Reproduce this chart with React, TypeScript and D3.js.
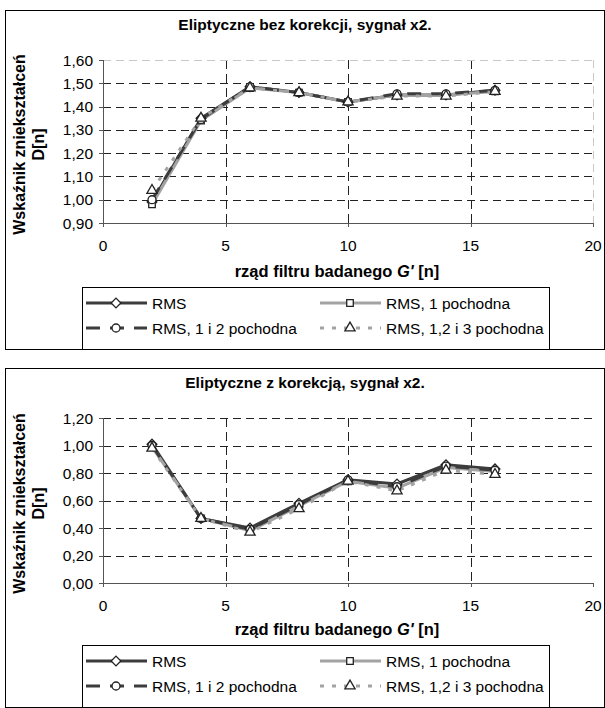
import * as d3 from 'd3'

// rząd filtru (oś X)
const orders = [2, 4, 6, 8, 10, 12, 14, 16]
const seriesNames = ['RMS', 'RMS, 1 pochodna', 'RMS, 1 i 2 pochodna', 'RMS, 1,2 i 3 pochodna']

// Eliptyczne bez korekcji
const topRms = [0.99, 1.35, 1.485, 1.46, 1.42, 1.45, 1.45, 1.47]
const topD1 = [0.98, 1.34, 1.48, 1.46, 1.42, 1.45, 1.45, 1.465]
const topD12 = [1.0, 1.345, 1.485, 1.46, 1.42, 1.455, 1.455, 1.47]
const topD123 = [1.04, 1.35, 1.48, 1.46, 1.42, 1.445, 1.445, 1.465]

// Eliptyczne z korekcją
const botRms = [1.01, 0.47, 0.4, 0.58, 0.75, 0.72, 0.86, 0.83]
const botD1 = [0.99, 0.47, 0.38, 0.56, 0.74, 0.69, 0.84, 0.81]
const botD12 = [1.0, 0.47, 0.39, 0.57, 0.75, 0.7, 0.85, 0.82]
const botD123 = [0.98, 0.47, 0.37, 0.54, 0.74, 0.67, 0.82, 0.79]

const xTicks = [0, 5, 10, 15, 20]
const topTicks = [0.9, 1.0, 1.1, 1.2, 1.3, 1.4, 1.5, 1.6]
const botTicks = [0, 0.2, 0.4, 0.6, 0.8, 1.0, 1.2]

const FONT = 'Liberation Sans, Arial, sans-serif'
const DARK = '#3c3c3c'
const LIGHT = '#a3a3a3'

const looks = [
  { color: DARK, dash: undefined, marker: 'diamond' },
  { color: LIGHT, dash: undefined, marker: 'square' },
  { color: DARK, dash: '14,10', marker: 'circle' },
  { color: LIGHT, dash: '4,8', marker: 'triangle' },
]

const symbolOf = (m: string) => {
  if (m === 'diamond') return d3.symbol(d3.symbolDiamond2, 60)()
  if (m === 'square') return d3.symbol(d3.symbolSquare2, 55)()
  if (m === 'circle') return d3.symbol(d3.symbolCircle, 50)()
  return d3.symbol(d3.symbolTriangle2, 75)()
}

const fmt = (v: number) => d3.format('.2f')(v).replace('.', ',')

type ChartProps = {
  top: number
  title: string
  ticks: number[]
  values: number[][]
  plotH: number
  frame: boolean
}

const Chart = ({ top, title, ticks, values, plotH, frame }: ChartProps) => {
  const left = 103
  const right = 593
  const pTop = top + 60
  const pBottom = pTop + plotH

  const x = d3.scaleLinear().domain([0, 20]).range([left, right])
  const y = d3.scaleLinear().domain([ticks[0], ticks[ticks.length - 1]]).range([pBottom, pTop])

  const line = (vals: number[]) =>
    d3.line<number>().x((_, i) => x(orders[i])).y((d) => y(d))(vals) || ''

  const legendTop = top + 287
  const rows = [legendTop + 16, legendTop + 41]
  const cols = [86, 320]

  return (
    <g>
      <rect x={5.5} y={top + 10.5} width={599} height={339} fill="#fff" stroke="#000" strokeWidth={1} />
      <text x={305} y={top + 30} textAnchor="middle" fontFamily={FONT} fontWeight="bold" fontSize={15.5}>
        {title}
      </text>

      {/* siatka */}
      {ticks.slice(1, frame ? -1 : undefined).map((t) => (
        <line key={'h' + t} x1={left} x2={right} y1={Math.round(y(t)) + 0.5} y2={Math.round(y(t)) + 0.5}
          stroke="#222" strokeDasharray="8,5" />
      ))}
      {xTicks.slice(1, -1).map((t) => (
        <line key={'v' + t} x1={Math.round(x(t)) + 0.5} x2={Math.round(x(t)) + 0.5} y1={pTop} y2={pBottom}
          stroke="#222" strokeDasharray="9,5" />
      ))}
      {frame && (
        <g stroke="#c8c8c8" strokeDasharray="8,5" fill="none">
          <line x1={left} x2={right} y1={pTop + 0.5} y2={pTop + 0.5} />
          <line x1={right + 0.5} x2={right + 0.5} y1={pTop} y2={pBottom} />
        </g>
      )}

      {/* osie */}
      <line x1={left + 0.5} x2={left + 0.5} y1={pTop} y2={pBottom} stroke="#555" />
      <line x1={left} x2={right} y1={pBottom + 0.5} y2={pBottom + 0.5} stroke="#555" />
      {ticks.map((t) => (
        <g key={'yt' + t}>
          <line x1={left - 4} x2={left} y1={Math.round(y(t)) + 0.5} y2={Math.round(y(t)) + 0.5} stroke="#555" />
          <text x={left - 10} y={y(t) + 5.5} textAnchor="end" fontFamily={FONT} fontSize={15.5}>{fmt(t)}</text>
        </g>
      ))}
      {xTicks.map((t) => (
        <g key={'xt' + t}>
          <line x1={Math.round(x(t)) + 0.5} x2={Math.round(x(t)) + 0.5} y1={pBottom} y2={pBottom + 4} stroke="#555" />
          <text x={x(t)} y={pBottom + 28} textAnchor="middle" fontFamily={FONT} fontSize={15.5}>{t}</text>
        </g>
      ))}

      <text x={337} y={top + 277} textAnchor="middle" fontFamily={FONT} fontWeight="bold" fontSize={16.5}>
        rząd filtru badanego <tspan fontStyle="italic">G'</tspan> [n]
      </text>
      <g transform={`translate(25,${(pTop + pBottom) / 2 + 3}) rotate(-90)`}>
        <text textAnchor="middle" fontFamily={FONT} fontWeight="bold" fontSize={16}>Wskaźnik zniekształceń</text>
        <text y={19} textAnchor="middle" fontFamily={FONT} fontWeight="bold" fontSize={16}>D[n]</text>
      </g>

      {/* serie */}
      {values.map((vals, i) => (
        <path key={'s' + i} d={line(vals)} fill="none" stroke={looks[i].color} strokeWidth={3}
          strokeDasharray={looks[i].dash} />
      ))}
      {values.map((vals, i) =>
        vals.map((v, j) => (
          <path key={'m' + i + '-' + j} d={symbolOf(looks[i].marker) || ''}
            transform={`translate(${x(orders[j])},${y(v)})`} fill="#fff" stroke="#222" strokeWidth={1.3} />
        ))
      )}

      {/* legenda */}
      <rect x={82.5} y={legendTop + 0.5} width={467} height={62} fill="#fff" stroke="#000" />
      {seriesNames.map((name, i) => {
        const cx = cols[i % 2]
        const cy = rows[Math.floor(i / 2)]
        return (
          <g key={'l' + i}>
            <line x1={cx} x2={cx + 61} y1={cy} y2={cy} stroke={looks[i].color} strokeWidth={3}
              strokeDasharray={looks[i].dash} />
            <path d={symbolOf(looks[i].marker) || ''} transform={`translate(${cx + 30},${cy})`}
              fill="#fff" stroke="#222" strokeWidth={1.3} />
            <text x={cx + 66} y={cy + 5.5} fontFamily={FONT} fontSize={15.5}>{name}</text>
          </g>
        )
      })}
    </g>
  )
}

export default function App() {
  return (
    <svg width={605} height={708} style={{ position: 'absolute', left: 0, top: 0 }}>
      <Chart top={0} title="Eliptyczne bez korekcji, sygnał x2." ticks={topTicks}
        values={[topRms, topD1, topD12, topD123]} plotH={163} frame={true} />
      <Chart top={358} title="Eliptyczne z korekcją, sygnał x2." ticks={botTicks}
        values={[botRms, botD1, botD12, botD123]} plotH={165} frame={false} />
    </svg>
  )
}
